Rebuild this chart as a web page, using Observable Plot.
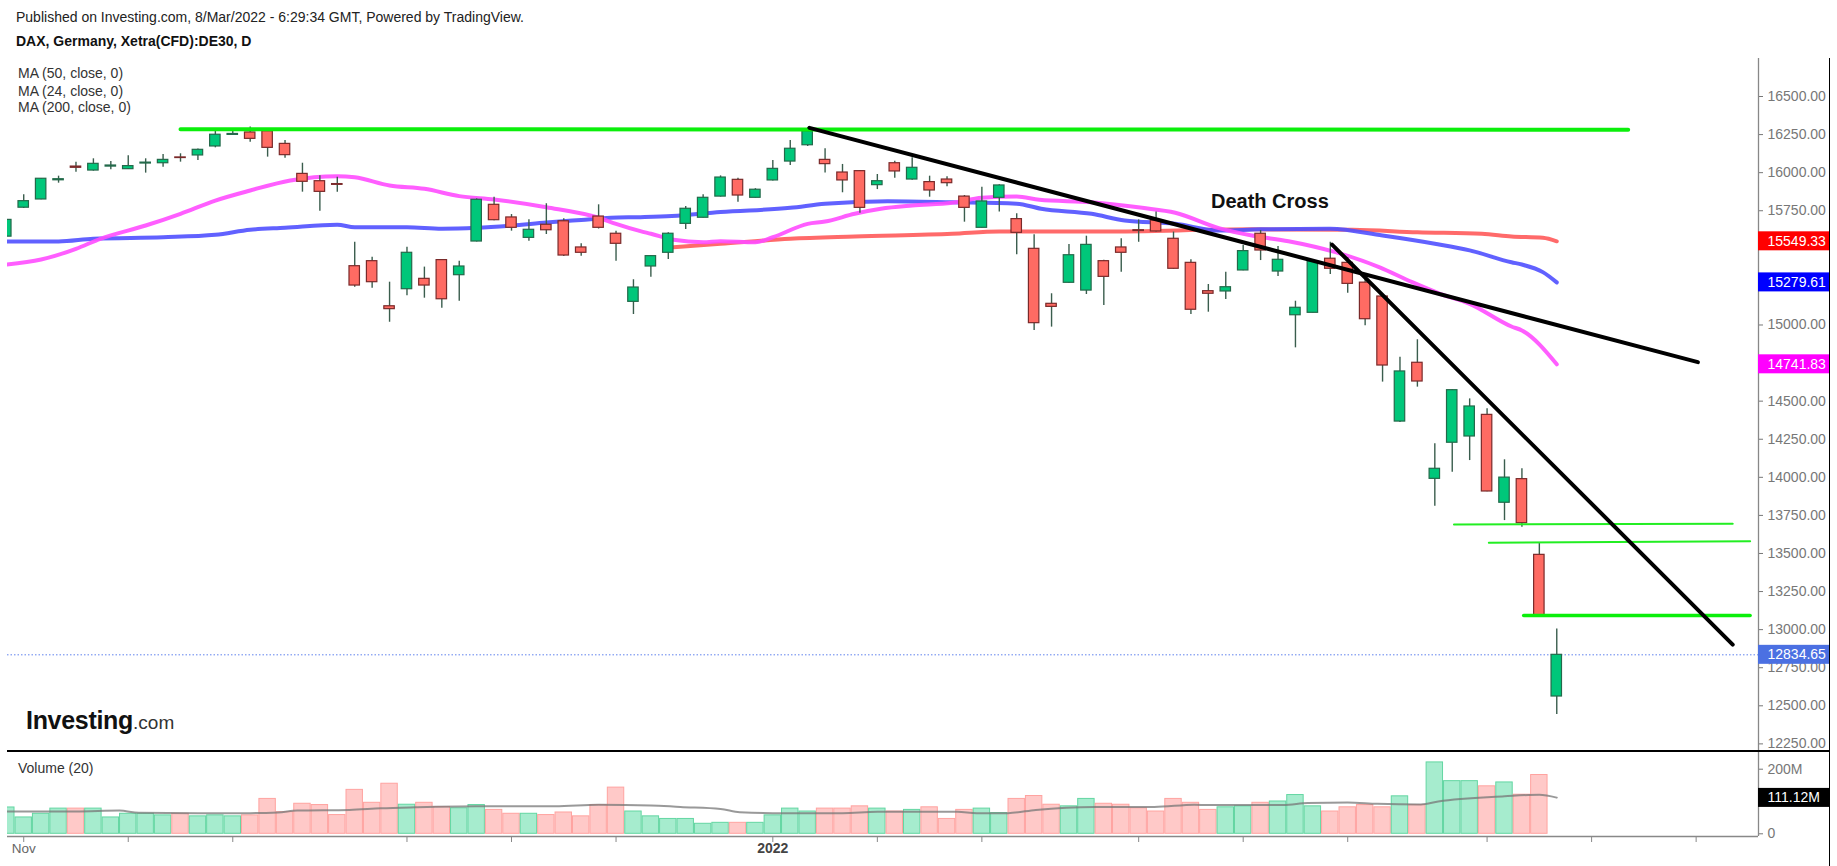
<!DOCTYPE html>
<html><head><meta charset="utf-8">
<script src="https://cdn.jsdelivr.net/npm/d3@7"></script>
<script src="https://cdn.jsdelivr.net/npm/@observablehq/plot@0.6"></script>
<style>
body{margin:0;background:#fff;}
#wrap{position:relative;width:1837px;height:866px;overflow:hidden;font-family:"Liberation Sans",Arial,sans-serif;background:#fff;}
#wrap svg{position:absolute;left:0;}
.t{position:absolute;white-space:nowrap;color:#222;line-height:1;}
.ln{position:absolute;background:#000;}
</style></head><body><div id="wrap"></div>
<script>
// ---- Daily candles, DAX (Xetra CFD DE30), 29 Oct 2021 .. 7 Mar 2022 (trading-day index 0..89)
const open  = [15580,15770,15824,15950,16040,16014,16040,16023,16060,16062,16100,16113,16172,16248,16264,16272,16189,15992,15944,15925,
               15386,15419,15123,15235,15303,15426,15327,15548,15789,15706,15572,15658,15681,15509,15712,15599,15152,15384,15474,15664,
               15704,15843,15953,15835,15949,16073,16180,16084,16001,16010,15918,16062,15955,15938,15955,15843,15638,15835,15695,15500,
               15139,15277,15226,15419,15509,15622,15686,15566,15408,15222,15220,15358,15599,15351,15064,15080,15435,15408,15278,15187,
               14366,14752,13990,14227,14268,14410,13833,13988,13491,12561];
const high  = [15700,15855,15962,15977,16069,16091,16073,16111,16091,16119,16124,16155,16272,16288,16299,16288,16211,16062,15979,15970,
               15543,15445,15281,15511,15380,15430,15419,15828,15839,15725,15691,15796,15697,15533,15789,15616,15297,15455,15606,15778,
               15855,15979,15964,15895,16080,16211,16294,16157,16054,16015,15988,16075,16098,15977,15973,15850,15905,15920,15730,15592,
               15205,15528,15583,15425,15566,15690,15741,15610,15428,15266,15347,15522,15620,15515,15156,15425,15543,15441,15325,15190,
               14789,14903,14220,14575,14515,14450,14115,14056,13568,13005];
const low   = [15570,15765,15822,15931,16003,16010,16019,16020,15997,16036,16069,16080,16163,16245,16200,16102,16095,15872,15747,15872,
               15248,15242,15018,15192,15176,15110,15156,15545,15685,15616,15550,15594,15450,15452,15630,15419,15069,15314,15430,15627,
               15702,15840,15806,15833,15945,16047,16172,15997,15868,15734,15889,15964,15950,15839,15908,15675,15636,15741,15461,14964,
               14986,15274,15200,15128,15347,15543,15610,15365,15069,15084,15167,15356,15423,15318,14850,15078,15331,15209,14995,14625,
               14360,14592,13810,14034,14110,13905,13716,13673,13090,12443];
const close = [15690,15813,15960,15957,16032,16058,16047,16043,16066,16084,16096,16150,16249,16254,16222,16163,16115,15940,15874,15920,
               15259,15281,15104,15474,15259,15169,15384,15822,15688,15638,15625,15622,15456,15474,15638,15533,15246,15452,15599,15763,
               15835,15968,15850,15888,16025,16157,16272,16056,15949,15769,15944,16008,16032,15883,15931,15769,15811,15916,15605,15012,
               15119,15458,15526,15316,15474,15617,15614,15369,15100,15205,15248,15485,15489,15428,15113,15419,15369,15270,15038,14734,
               14695,14629,14056,14572,14465,13907,13998,13699,13093,12834.65];
// volume in millions (last session shows no bar)
const volume = [81.5,50.6,62,78,78,78,50.6,62,62,57,62,54,57,54,57,108,67,93,89,58,
                136,96,155,90,96,83,79,89,74,62,62,58,66,54,89,143,69,54,46,46,
                31,34,34,34,57,78,69,78,78,85,78,69,74,82,46,74,78,64,108,117,
                90,85,108,93,90,79,69,108,96,74,82,85,96,100,120,85,69,82,89,82,
                116,89,221,163,163,147,159,121,182];
// moving averages: [trading-day index, value]
const ma24 = [[0,15397],[2,15430],[4,15500],[5.4,15566],[8,15653],[10,15730],[12,15817],[14,15883],[16.3,15949],[19,15977],[20,15970],
              [22,15916],[24,15894],[26,15846],[28,15824],[31,15773],[34,15704],[35,15664],[36.4,15616],[37,15599],[38.3,15559],[40,15543],
              [41,15550],[43,15543],[44,15576],[46,15664],[47,15679],[48.7,15730],[50.2,15763],[52,15784],[54.3,15802],[56,15835],[58,15843],
              [59.3,15822],[62.3,15806],[65.2,15769],[67.1,15737],[69.6,15636],[71.5,15587],[73.6,15550],[76.3,15478],[78.8,15380],
              [80.7,15281],[82.3,15205],[84,15139],[86.4,14990],[87,14964],[89,14741.83]];
const ma50 = [[0,15548],[3,15548],[5,15566],[9,15576],[12,15592],[14,15625],[16,15638],[19,15658],[20,15642],[23,15642],[25,15632],
              [27,15638],[29,15653],[31,15673],[33,15690],[34.7,15704],[36.4,15708],[38.2,15715],[41,15741],[45,15769],[47,15796],
              [50.6,15813],[54.3,15806],[58,15796],[59.4,15763],[62.3,15730],[64.2,15686],[67.1,15664],[69.6,15620],[72,15628],[76,15632],
              [79,15587],[82,15533],[84,15490],[86.4,15412],[87,15397],[88.2,15347],[89,15279.61]];
const ma200 = [[38.3,15511],[41,15533],[45,15566],[48.7,15581],[54.3,15599],[57,15614],[63,15614],[71.5,15628],[77.3,15625],
               [81,15609],[84.7,15599],[86.4,15581],[88.2,15572],[89,15549.33]];
const volMA = [[0,69],[4,69],[6.5,72],[7.6,65],[11,64],[14,64],[15.6,66],[16.7,72],[19.7,74],[21.5,79],[23.5,82],[27,85],[31.5,85],
               [34,90],[37,88],[38.7,83],[41,77],[42.1,67],[44,64],[48,64],[50,68],[54.6,68],[55.7,64],[57.5,64],[59.1,74],[62.5,83],
               [65.9,83],[68.2,90],[69,89],[73.3,89],[74.7,95],[77,97],[78.7,93],[81.2,91],[82.2,100],[86,116],[88,121],[89,112]];
// drawn annotations: [[index, price],[index, price]]
const resistTop = [[10,16285],[93.1,16282]];
const support1 = [[83.1,13690],[99.1,13695]];
const support2 = [[85.1,13570],[100.1,13580]];
const support3 = [[87.1,13093],[100.1,13093]];
const trend1 = [[46.1,16294],[97.1,14756]];
const trend2 = [[76.1,15528],[99.1,12902]];
const deathCross = [{i: 69.15, p: 15811, text: "Death Cross"}];
// axis ticks / labels (labels covered by the value tags are left out)
const priceTicks = [12250,12500,12750,13000,13250,13500,13750,14000,14250,14500,15000,15750,16000,16250,16500];
const volTicks = [0,200];
const timeTicks = [1,7,13,23,29,35,44,50,56,65,71,77,85,91,97];
const monthLabelIdx = [1];  const monthLabels = ["Nov"];
const yearLabelIdx = [44];  const yearLabels = ["2022"];
const priceTagValues = [15549.33,15279.61,14741.83,12834.65];
const priceTagColors = ["#ff0000","#0000ff","#ff00ff","#4b70e2"];
const volTagValues = [111.12];
const lastPrice = 12834.65;

// ---- layout constants
const W = 1837, X_MIN = 0.069, X_MAX = 100.58, BAR = 17.42;
const TAG_W = 71 / BAR;
const FONT = '"Liberation Sans", Arial, sans-serif';
const UP = "#00c77a", UPB = "#23694a", DN = "#ff6b63", DNB = "#7a2a2a", WICK = "#3a5d4d";

const candles = open.map((o, i) => ({i, o, h: high[i], l: low[i], c: close[i], up: close[i] >= o}));
const vols = volume.map((v, i) => ({i, v, up: close[i] >= open[i]}));
const fmt2 = d3.format(".2f");
const px = d => d[0], py = d => d[1];

const wrap = document.getElementById("wrap");

// ---- price pane
const PY0 = 12200, PY1 = 16749.5, PH = 751, PTOP = 58;
const priceHalf = 9.5 * (PY1 - PY0) / (PH - PTOP);
const pricePlot = Plot.plot({
  width: W, height: PH,
  marginLeft: 7, marginRight: 79, marginTop: PTOP, marginBottom: 0,
  x: {domain: [X_MIN, X_MAX], axis: null},
  y: {domain: [PY0, PY1], axis: null},
  style: {background: "transparent", fontFamily: FONT, fontSize: "14px", overflow: "visible"},
  marks: [
    Plot.ruleY([lastPrice], {stroke: "#5f82ee", strokeWidth: 1, strokeDasharray: "1.5,2"}),
    Plot.line(ma200, {x: px, y: py, stroke: "#ff5a5a", strokeWidth: 4, strokeOpacity: 0.9, curve: "monotone-x", clip: true}),
    Plot.line(ma50, {x: px, y: py, stroke: "#5050ff", strokeWidth: 4, strokeOpacity: 0.9, curve: "monotone-x", clip: true}),
    Plot.line(ma24, {x: px, y: py, stroke: "#ff4dff", strokeWidth: 4, strokeOpacity: 0.9, curve: "monotone-x", clip: true}),
    Plot.ruleX(candles, {x: "i", y1: "l", y2: "h", stroke: WICK, strokeWidth: 1.4, clip: true}),
    Plot.rect(candles, {x1: d => d.i - 0.3, x2: d => d.i + 0.3, y1: "o", y2: "c",
      fill: d => d.up ? UP : DN, stroke: d => d.up ? UPB : DNB, strokeWidth: 1.2, clip: true}),
    Plot.line(resistTop, {x: px, y: py, stroke: "#0bef0b", strokeWidth: 4}),
    Plot.line(support1, {x: px, y: py, stroke: "#22ee22", strokeWidth: 2}),
    Plot.line(support2, {x: px, y: py, stroke: "#22ee22", strokeWidth: 2}),
    Plot.line(support3, {x: px, y: py, stroke: "#0bef0b", strokeWidth: 3.5}),
    Plot.line(trend1, {x: px, y: py, stroke: "#000", strokeWidth: 4}),
    Plot.line(trend2, {x: px, y: py, stroke: "#000", strokeWidth: 4}),
    Plot.text(deathCross, {x: "i", y: "p", text: "text", textAnchor: "start", fontSize: 20, fontWeight: "bold", fill: "#111"}),
    Plot.ruleX([X_MAX], {stroke: "#888", strokeWidth: 1.3}),
    Plot.axisY({anchor: "right", ticks: priceTicks, tickFormat: fmt2, tickSize: 4, tickPadding: 5, fontSize: 14, color: "#777", label: null}),
    Plot.rect(priceTagValues, {x1: () => X_MAX, x2: () => X_MAX + TAG_W, y1: d => d - priceHalf, y2: d => d + priceHalf,
      fill: (d, i) => priceTagColors[i]}),
    Plot.text(priceTagValues, {x: () => X_MAX, y: d => d, text: d => fmt2(d), dx: 9, textAnchor: "start", fill: "#fff", fontSize: 14})
  ]
});
pricePlot.style.top = "0px";
wrap.appendChild(pricePlot);

// ---- volume pane
const VH = 115, VBOT = 30, V0 = -8.36, V1 = 254.8;
const volHalf = 9.5 * (V1 - V0) / (VH - VBOT);
const volPlot = Plot.plot({
  width: W, height: VH,
  marginLeft: 7, marginRight: 79, marginTop: 0, marginBottom: VBOT,
  x: {domain: [X_MIN, X_MAX], axis: null},
  y: {domain: [V0, V1], axis: null},
  style: {background: "transparent", fontFamily: FONT, fontSize: "14px", overflow: "visible"},
  marks: [
    Plot.rect(vols, {x1: d => d.i - 0.5, x2: d => d.i + 0.5, y1: () => 0, y2: "v", insetLeft: 0.5, insetRight: 0.5,
      fill: d => d.up ? "#a6ecce" : "#ffc9c8", stroke: d => d.up ? "#63d6a2" : "#ffa3a0", strokeWidth: 1, clip: true}),
    Plot.line(volMA, {x: px, y: py, stroke: "#777", strokeOpacity: 0.75, strokeWidth: 2, curve: "monotone-x", clip: true}),
    Plot.ruleY([V0], {stroke: "#888", strokeWidth: 1.5}),
    Plot.ruleX([X_MAX], {stroke: "#888", strokeWidth: 1.3}),
    Plot.axisX({ticks: timeTicks, tickFormat: () => "", tickSize: 6, color: "#888", label: null}),
    Plot.text(monthLabelIdx, {x: d => d, text: (d, i) => monthLabels[i], frameAnchor: "bottom", dy: 16, fontSize: 13.5, fill: "#666"}),
    Plot.text(yearLabelIdx, {x: d => d, text: (d, i) => yearLabels[i], frameAnchor: "bottom", dy: 16, fontSize: 14, fontWeight: "bold", fill: "#444"}),
    Plot.axisY({anchor: "right", ticks: volTicks, tickFormat: d => d === 0 ? "0" : d + "M", tickSize: 4, tickPadding: 5, fontSize: 14, color: "#777", label: null}),
    Plot.rect(volTagValues, {x1: () => X_MAX, x2: () => X_MAX + TAG_W, y1: d => d - volHalf, y2: d => d + volHalf, fill: "#000"}),
    Plot.text(volTagValues, {x: () => X_MAX, y: d => d, text: d => fmt2(d) + "M", dx: 9, textAnchor: "start", fill: "#fff", fontSize: 14})
  ]
});
volPlot.style.top = "751px";
wrap.appendChild(volPlot);

// ---- pane chrome and captions
function addDiv(cls, css, html) {
  const el = document.createElement("div");
  el.className = cls; el.style.cssText = css; if (html != null) el.innerHTML = html;
  wrap.appendChild(el); return el;
}
addDiv("ln", "left:7px;top:750px;width:1823px;height:1.5px;");
addDiv("ln", "left:1828.5px;top:58px;width:1.5px;height:808px;");
addDiv("t", "left:16px;top:10.2px;font-size:14px;", "Published on Investing.com, 8/Mar/2022 - 6:29:34 GMT, Powered by TradingView.");
addDiv("t", "left:16px;top:34px;font-size:14px;font-weight:bold;color:#111;", "DAX, Germany, Xetra(CFD):DE30, D");
addDiv("t", "left:18px;top:66.4px;font-size:14px;color:#333;", "MA (50, close, 0)");
addDiv("t", "left:18px;top:83.8px;font-size:14px;color:#333;", "MA (24, close, 0)");
addDiv("t", "left:18px;top:100.4px;font-size:14px;color:#333;", "MA (200, close, 0)");
addDiv("t", "left:18px;top:761px;font-size:14px;color:#333;", "Volume (20)");
addDiv("t", "left:26px;top:707.8px;font-size:25px;font-weight:bold;color:#111;letter-spacing:-0.3px;",
  'Investing<span style="font-size:19px;font-weight:normal;color:#333;letter-spacing:0">.com</span>');
</script>
</body></html>
